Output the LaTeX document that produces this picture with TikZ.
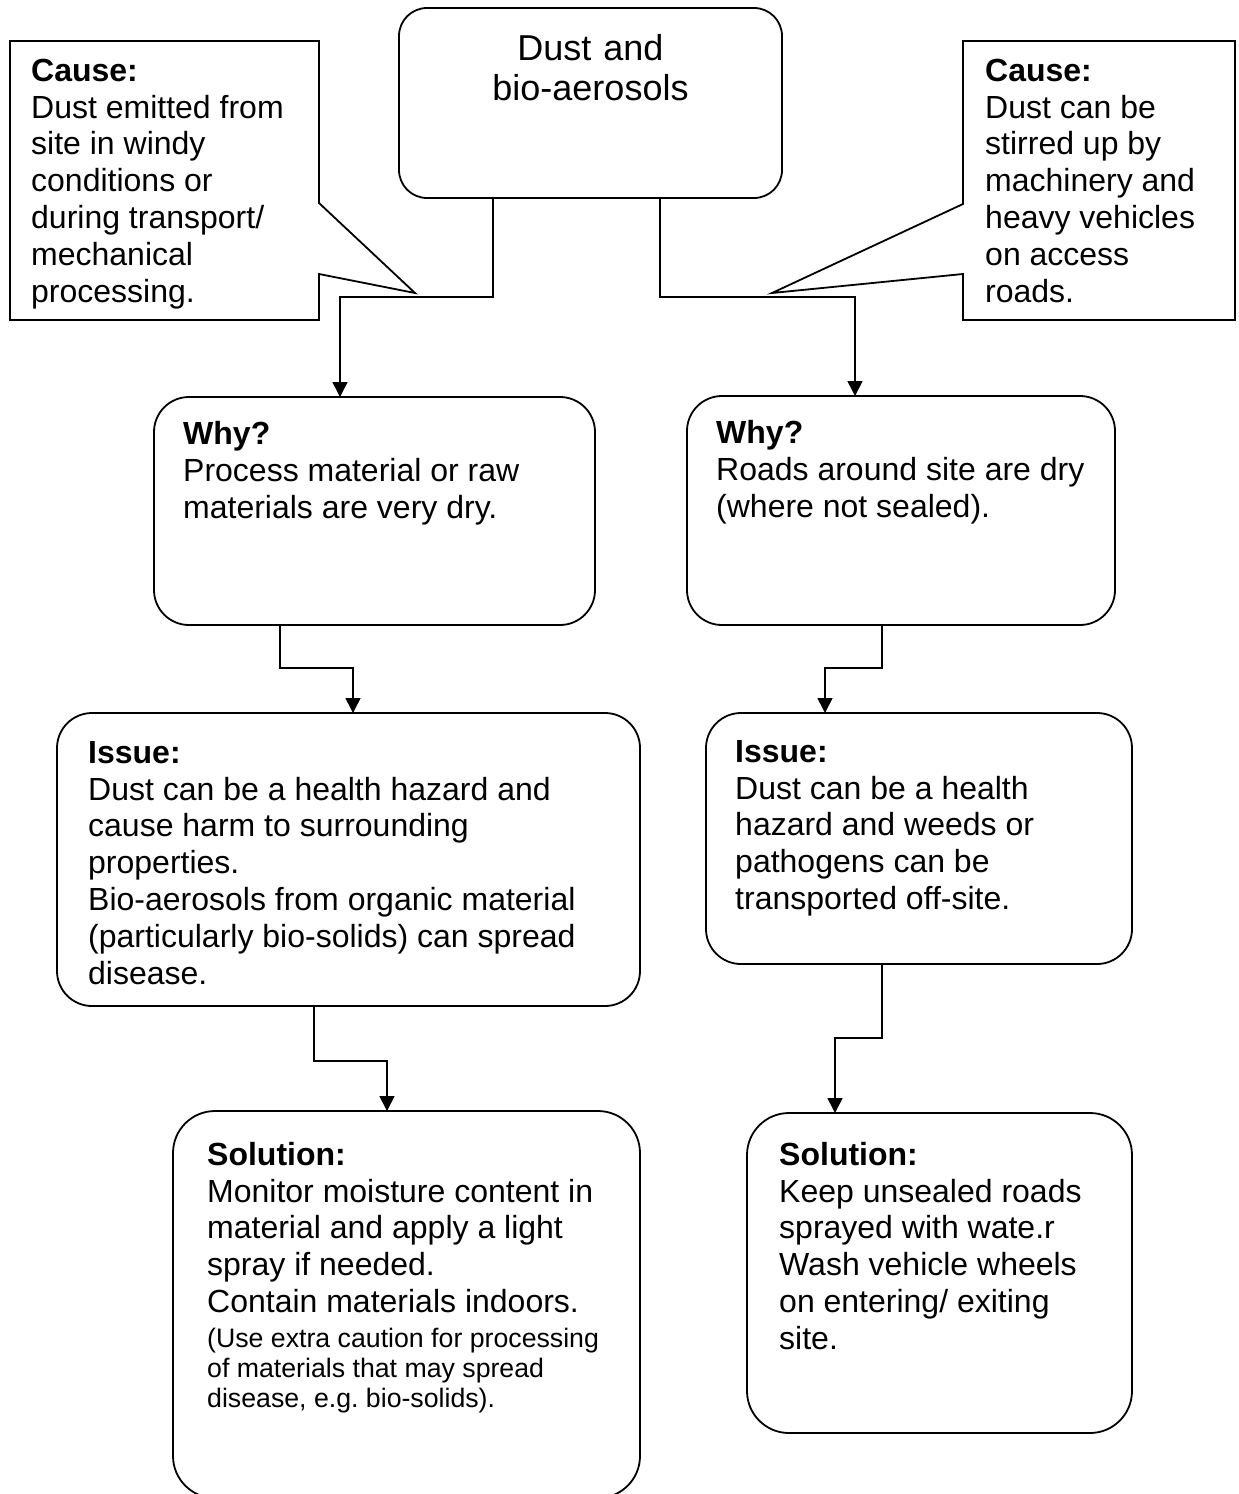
\documentclass[tikz,border=0pt]{standalone}
\usepackage{fontspec}
\setmainfont{Liberation Sans}
\usetikzlibrary{arrows.meta}

% struts that fix the height of the first line of every text block
\newcommand{\firstline}{\rule{0pt}{25pt}}
\newcommand{\titleline}{\rule{0pt}{26pt}}
\newcommand{\noteline}{\rule{0pt}{20pt}}

\begin{document}
\frenchspacing
\begin{tikzpicture}[x=1pt, y=-1pt,
  outline/.style={line width=1.8pt, black, line join=miter},
  rbox/.style={draw, line width=1.8pt, rounded corners=#1, inner sep=0pt,
               outer sep=0pt, anchor=north west},
  rbox/.default=35pt,
  arr/.style={line width=1.6pt, -{Triangle[width=15pt,length=15pt]}},
  body/.style={inner sep=0pt, anchor=north west, text width=600pt,
               align=flush left, font=\fontsize{32}{36.8}\selectfont},
  note/.style={body, font=\fontsize{26.7}{30}\selectfont}
]
\useasboundingbox (0,0) rectangle (1239,1494);

% ---------- boxes ----------
\node[rbox=28pt, minimum width=383pt, minimum height=190pt] (top)    at (399,8)    {};
\node[rbox, minimum width=441pt, minimum height=228pt]      (whyL)   at (154,397)  {};
\node[rbox, minimum width=428pt, minimum height=229pt]      (whyR)   at (687,396)  {};
\node[rbox, minimum width=583pt, minimum height=293pt]      (issueL) at (57,713)   {};
\node[rbox, minimum width=426pt, minimum height=251pt]      (issueR) at (706,713)  {};
\node[rbox=42pt, minimum width=467pt, minimum height=387pt] (solL)   at (173,1111) {};
\node[rbox=42pt, minimum width=385pt, minimum height=320pt] (solR)   at (747,1113) {};

% ---------- callouts ----------
\draw[outline] (10,41) -- (319,41) -- (319,203) -- (415,293) -- (319,274)
  -- (319,320) -- (10,320) -- cycle;
\draw[outline] (963,41) -- (1235,41) -- (1235,320) -- (963,320) -- (963,274)
  -- (772,293) -- (963,204) -- cycle;

% ---------- texts ----------
\node[inner sep=0pt, anchor=north, text width=383pt, align=center,
      font=\fontsize{36}{40.5}\selectfont] (title) at (590.5,34)
  {\titleline Dust and\\bio-aerosols};

\node[body] (causeL) at (31,56)
  {\firstline\textbf{Cause:}\\Dust emitted from\\site in windy\\conditions or\\during transport/\\mechanical\\processing.};
\node[body] (causeR) at (985,56)
  {\firstline\textbf{Cause:}\\Dust can be\\stirred up by\\machinery and\\heavy vehicles\\on access\\roads.};

\node[body, font=\fontsize{32}{37}\selectfont] (whyLt) at (183,419)
  {\firstline\textbf{Why?}\\Process material or raw\\materials are very dry.};
\node[body, font=\fontsize{32}{37}\selectfont] (whyRt) at (716,418)
  {\firstline\textbf{Why?}\\Roads around site are dry\\(where not sealed).};

\node[body] (issueLt) at (88,738)
  {\firstline\textbf{Issue:}\\Dust can be a health hazard and\\cause harm to surrounding\\properties.\\Bio-aerosols from organic material\\(particularly bio-solids) can spread\\disease.};
\node[body] (issueRt) at (735,737)
  {\firstline\textbf{Issue:}\\Dust can be a health\\hazard and weeds or\\pathogens can be\\transported off-site.};

\node[body] (solLt) at (207,1140)
  {\firstline\textbf{Solution:}\\Monitor moisture content in\\material and apply a light\\spray if needed.\\Contain materials indoors.};
\node[note] (solLnote) at (207,1327)
  {\noteline(Use extra caution for processing\\of materials that may spread\\disease, e.g. bio-solids).};
\node[body] (solRt) at (779,1140)
  {\firstline\textbf{Solution:}\\Keep unsealed roads\\sprayed with wate.r\\Wash vehicle wheels\\on entering/ exiting\\site.};

% ---------- connectors ----------
\coordinate (a1) at (493,297); \coordinate (a2) at (340,297);
\coordinate (b1) at (660,297); \coordinate (b2) at (855,297);
\coordinate (c1) at (280,668); \coordinate (c2) at (353,668);
\coordinate (d1) at (882,668); \coordinate (d2) at (825,668);
\coordinate (e1) at (314,1061); \coordinate (e2) at (387,1061);
\coordinate (f1) at (882,1038); \coordinate (f2) at (835,1038);

\draw[arr] (top.south -| a1) -- (a1) -- (a2) -- (whyL.north -| a2);
\draw[arr] (top.south -| b1) -- (b1) -- (b2) -- (whyR.north -| b2);
\draw[arr] (whyL.south -| c1) -- (c1) -- (c2) -- (issueL.north -| c2);
\draw[arr] (whyR.south -| d1) -- (d1) -- (d2) -- (issueR.north -| d2);
\draw[arr] (issueL.south -| e1) -- (e1) -- (e2) -- (solL.north -| e2);
\draw[arr] (issueR.south -| f1) -- (f1) -- (f2) -- (solR.north -| f2);
\end{tikzpicture}
\end{document}
